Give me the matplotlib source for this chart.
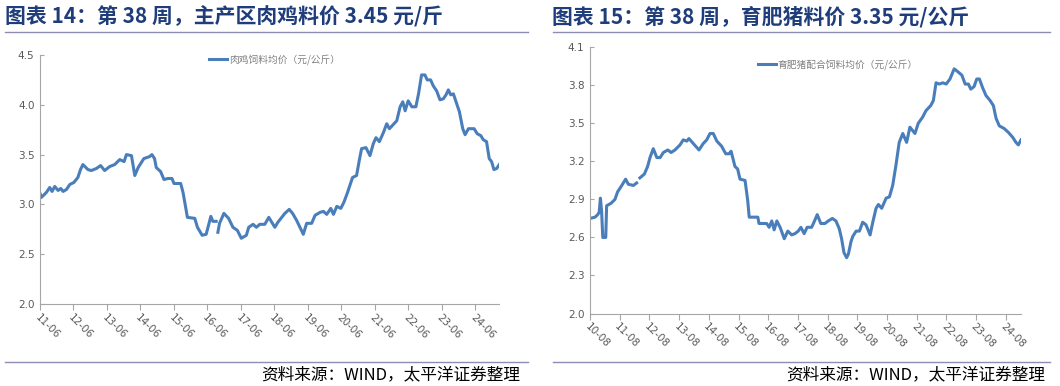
import numpy as np
import matplotlib.pyplot as plt
from matplotlib.lines import Line2D

plt.rcParams['font.family'] = ['Noto Sans CJK SC', 'DejaVu Sans']

# 肉鸡饲料均价（元/公斤），x 为距 11-06 的年数
chicken_t = [0.00, 0.04, 0.19, 0.29, 0.36, 0.44, 0.54, 0.62, 0.69, 0.79, 0.89, 1.01,
             1.13, 1.21, 1.28, 1.43, 1.53, 1.68, 1.81, 1.93, 2.08, 2.23, 2.38, 2.51,
             2.58, 2.73, 2.83, 2.93, 3.10, 3.27, 3.34, 3.42, 3.47, 3.60, 3.70, 3.82,
             3.94, 4.00, 4.20, 4.27, 4.40, 4.62, 4.70, 4.84, 4.96, 5.10, 5.16, 5.26,
             5.30, 5.31, 5.36, 5.49, 5.63, 5.76, 5.89, 6.01, 6.16, 6.23, 6.36, 6.46,
             6.56, 6.71, 6.83, 7.01, 7.10, 7.31, 7.44, 7.54, 7.66, 7.76, 7.86, 7.96,
             8.11, 8.21, 8.36, 8.46, 8.56, 8.68, 8.76, 8.86, 8.98, 9.07, 9.17, 9.25,
             9.33, 9.45, 9.53, 9.60, 9.73, 9.85, 9.95, 10.03, 10.13, 10.25, 10.35, 10.43,
             10.57, 10.65, 10.75, 10.83, 10.90, 10.99, 11.10, 11.22, 11.30, 11.39, 11.49, 11.56,
             11.66, 11.74, 11.84, 11.94, 12.04, 12.12, 12.19, 12.26, 12.34, 12.42, 12.52, 12.62,
             12.69, 12.79, 12.96, 13.05, 13.16, 13.23, 13.33, 13.41, 13.48, 13.55, 13.63, 13.71]
chicken_price = [3.11, 3.07, 3.12, 3.17, 3.13, 3.18, 3.14, 3.16, 3.13, 3.15, 3.20, 3.22,
                 3.27, 3.35, 3.40, 3.35, 3.34, 3.36, 3.39, 3.34, 3.38, 3.40, 3.45, 3.43,
                 3.50, 3.49, 3.29, 3.37, 3.46, 3.48, 3.50, 3.46, 3.37, 3.33, 3.25, 3.26,
                 3.26, 3.21, 3.21, 3.12, 2.87, 2.86, 2.77, 2.69, 2.70, 2.88, 2.83, 2.83,
                 np.nan, 2.72, 2.81, 2.91, 2.86, 2.77, 2.74, 2.66, 2.69, 2.77, 2.80, 2.77,
                 2.80, 2.80, 2.87, 2.77, 2.82, 2.91, 2.95, 2.91, 2.84, 2.77, 2.70, 2.81,
                 2.81, 2.89, 2.92, 2.93, 2.90, 2.96, 2.90, 2.98, 2.96, 3.02, 3.11, 3.19,
                 3.27, 3.29, 3.44, 3.56, 3.57, 3.49, 3.61, 3.67, 3.63, 3.72, 3.81, 3.76,
                 3.81, 3.84, 3.98, 4.03, 3.94, 4.04, 3.98, 3.98, 4.11, 4.30, 4.30, 4.25,
                 4.25, 4.19, 4.14, 4.05, 4.06, 4.10, 4.15, 4.10, 4.11, 4.03, 3.93, 3.76,
                 3.70, 3.76, 3.76, 3.71, 3.69, 3.65, 3.63, 3.46, 3.43, 3.35, 3.36, 3.40]
chicken_labels = ['11-06', '12-06', '13-06', '14-06', '15-06', '16-06', '17-06',
                  '18-06', '19-06', '20-06', '21-06', '22-06', '23-06', '24-06']

# 育肥猪配合饲料均价（元/公斤），x 为距 10-08 的年数
pig_t = [0.00, 0.17, 0.26, 0.31, 0.35, 0.39, 0.43, 0.53, 0.56, 0.71, 0.84, 0.93,
         1.07, 1.20, 1.29, 1.46, 1.57, 1.62, 1.68, 1.83, 1.94, 2.02, 2.13, 2.25,
         2.36, 2.47, 2.62, 2.73, 2.86, 3.03, 3.14, 3.26, 3.33, 3.48, 3.67, 3.81,
         3.93, 4.04, 4.15, 4.27, 4.43, 4.57, 4.68, 4.75, 4.88, 4.97, 5.05, 5.22,
         5.31, 5.36, 5.65, 5.69, 5.95, 6.03, 6.12, 6.20, 6.29, 6.40, 6.54, 6.66,
         6.79, 6.90, 7.01, 7.10, 7.21, 7.31, 7.46, 7.54, 7.65, 7.77, 7.91, 8.02,
         8.16, 8.28, 8.39, 8.47, 8.55, 8.64, 8.70, 8.79, 8.85, 8.96, 9.07, 9.18,
         9.29, 9.43, 9.52, 9.63, 9.71, 9.82, 9.97, 10.08, 10.19, 10.30, 10.41, 10.53,
         10.66, 10.77, 10.94, 11.05, 11.20, 11.31, 11.47, 11.56, 11.65, 11.76, 11.88, 11.99,
         12.12, 12.26, 12.37, 12.52, 12.63, 12.74, 12.82, 12.93, 13.02, 13.11, 13.22, 13.33,
         13.47, 13.58, 13.67, 13.78, 13.94, 14.08, 14.23, 14.34, 14.42, 14.51]
pig_price = [2.75, 2.76, 2.78, 2.80, 2.91, 2.81, 2.60, 2.60, 2.85, 2.87, 2.90, 2.96,
             3.01, 3.06, 3.02, 3.01, 3.03, np.nan, 3.07, 3.10, 3.16, 3.23, 3.30, 3.23,
             3.23, 3.27, 3.29, 3.27, 3.29, 3.33, 3.37, 3.36, 3.38, 3.34, 3.29, 3.34,
             3.37, 3.42, 3.42, 3.36, 3.32, 3.26, 3.26, 3.28, 3.16, 3.14, 3.06, 3.05,
             2.89, 2.76, 2.76, 2.71, 2.71, 2.68, 2.73, 2.66, 2.73, 2.68, 2.59, 2.65,
             2.62, 2.63, 2.65, 2.68, 2.63, 2.68, 2.68, 2.72, 2.78, 2.71, 2.71, 2.73,
             2.75, 2.73, 2.67, 2.59, 2.48, 2.44, 2.47, 2.57, 2.61, 2.65, 2.65, 2.72,
             2.70, 2.62, 2.72, 2.83, 2.86, 2.83, 2.91, 2.92, 3.01, 3.17, 3.35, 3.42,
             3.35, 3.47, 3.42, 3.50, 3.55, 3.60, 3.64, 3.68, 3.82, 3.81, 3.82, 3.81,
             3.85, 3.93, 3.91, 3.88, 3.81, 3.81, 3.77, 3.79, 3.85, 3.85, 3.78, 3.72,
             3.68, 3.64, 3.54, 3.48, 3.46, 3.43, 3.39, 3.35, 3.33, 3.37]
pig_labels = ['10-08', '11-08', '12-08', '13-08', '14-08', '15-08', '16-08', '17-08',
              '18-08', '19-08', '20-08', '21-08', '22-08', '23-08', '24-08']

line_color = '#4a7ebb'
axis_color = '#a6a6a6'
tick_color = '#595959'
title_color = '#1f3d7a'
rule_color = '#8c8cb4'

fig = plt.figure(figsize=(10.6, 3.86), dpi=100)


def px(x, y):
    return x / 1060, 1 - y / 386


def style_axes(ax, labels):
    for s in ['top', 'right']:
        ax.spines[s].set_visible(False)
    ax.spines['left'].set_color(axis_color)
    ax.spines['bottom'].set_color(axis_color)
    ax.tick_params(axis='y', direction='in', length=3, color=axis_color,
                   labelcolor=tick_color, labelsize=7.5, pad=4)
    ax.tick_params(axis='x', direction='out', length=4, color=axis_color,
                   labelcolor=tick_color, labelsize=7.5, pad=2)
    ax.set_xticks(range(len(labels)))
    ax.set_xticklabels(labels, rotation=-45, ha='left', va='top',
                       rotation_mode='anchor', family='DejaVu Sans')
    for lab in ax.get_yticklabels():
        lab.set_family('DejaVu Sans')


# 左图
ax1 = fig.add_axes([40 / 1060, 1 - 304 / 386, 458.6 / 1060, 249 / 386])
ax1.plot(chicken_t, chicken_price, color=line_color, lw=2.2)
ax1.set_xlim(0, 13.69)
ax1.set_ylim(2.0, 4.5)
ax1.set_yticks(np.arange(2.0, 4.51, 0.5))
ax1.set_yticklabels(['%.1f' % v for v in np.arange(2.0, 4.51, 0.5)])
style_axes(ax1, chicken_labels)
ax1.legend([Line2D([], [], color=line_color, lw=2.2)], ['肉鸡饲料均价（元/公斤）'],
           loc='upper left', bbox_to_anchor=(0.35, 1.04), frameon=False,
           fontsize=7, labelcolor='#808080', handlelength=1.8, handletextpad=0.2)

# 右图
ax2 = fig.add_axes([590 / 1060, 1 - 313.5 / 386, 431 / 1060, 266.2 / 386])
ax2.plot(pig_t, pig_price, color=line_color, lw=2.2)
ax2.set_xlim(0, 14.51)
ax2.set_ylim(2.0, 4.1)
ax2.set_yticks(np.arange(2.0, 4.11, 0.3))
ax2.set_yticklabels(['%.1f' % v for v in np.arange(2.0, 4.11, 0.3)])
style_axes(ax2, pig_labels)
ax2.legend([Line2D([], [], color=line_color, lw=2.2)], ['育肥猪配合饲料均价（元/公斤）'],
           loc='upper left', bbox_to_anchor=(0.37, 0.99), frameon=False,
           fontsize=7, labelcolor='#808080', handlelength=1.8, handletextpad=0.2)

# 标题、分隔线和来源
fig.text(*px(5, 17), '图表 14：第 38 周，主产区肉鸡料价 3.45 元/斤', fontsize=15,
         fontweight='bold', color=title_color, va='center', ha='left')
fig.text(*px(552, 17), '图表 15：第 38 周，育肥猪料价 3.35 元/公斤', fontsize=15,
         fontweight='bold', color=title_color, va='center', ha='left')
for x0, x1 in [(5, 528), (553, 1050)]:
    fig.add_artist(Line2D([x0 / 1060, x1 / 1060], [1 - 32 / 386] * 2, color=rule_color, lw=1))
    fig.add_artist(Line2D([x0 / 1060, x1 / 1060], [1 - 362 / 386] * 2, color=rule_color, lw=1))
fig.text(*px(520, 375), '资料来源：WIND，太平洋证券整理', fontsize=12, style='italic',
         ha='right', va='center', color='black')
fig.text(*px(1045, 375), '资料来源：WIND，太平洋证券整理', fontsize=12, style='italic',
         ha='right', va='center', color='black')

fig.savefig('out.png', dpi=100)
